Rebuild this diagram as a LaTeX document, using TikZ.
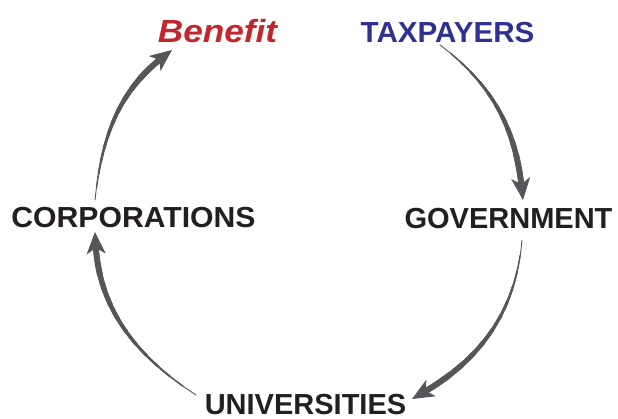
\documentclass[tikz,border=0pt]{standalone}
\usepackage{fontspec}
\setmainfont{Liberation Sans}
\usetikzlibrary{arrows.meta}
\definecolor{benred}{HTML}{C1272D}
\definecolor{taxblue}{HTML}{2E3192}
\definecolor{txtblack}{HTML}{231F20}
\definecolor{arrgray}{HTML}{55565A}
% tapered connector: #1 start, #2 end, #3 to-options, #4 approximate length (pt)
\newcommand\taperconn[4]{%
  \foreach \k in {1,...,10}{%
    \pgfmathsetmacro\ww{0.9+0.5*\k}%
    \pgfmathsetmacro\oo{\k*#4/13}%
    \draw[arrgray, line width=\ww pt, line cap=round, shorten >=12pt,
      dash pattern=on 1000pt off \oo pt, dash phase=1000pt] (#1) to[#3] (#2);
  }%
  \draw[arrgray, line width=0.9pt, line cap=round, -{Stealth[length=22pt,width=19pt,inset=6pt]}] (#1) to[#3] (#2);
}
\begin{document}
\begin{tikzpicture}[x=1pt,y=1pt,
  lbl/.style={inner sep=0pt, anchor=base, font=\fontsize{29}{34}\selectfont\bfseries, text=txtblack},
]
\useasboundingbox (0,0) rectangle (618,419);
\node[lbl, text=benred, font=\fontsize{32}{36}\selectfont\bfseries\itshape] (ben) at (217.5,376) {\scalebox{1.1}[1]{Benefit}};
\node[lbl, text=taxblue] (tax) at (447.5,376) {\scalebox{1.02}[1]{TAXPAYERS}};
\node[lbl] (corp) at (133.5,191) {\scalebox{1.04}[1]{CORPORATIONS}};
\node[lbl] (gov) at (508.5,190) {GOVERNMENT};
\node[lbl] (univ) at (305.5,4) {UNIVERSITIES};
\coordinate (a1s) at (440,374); \coordinate (a1e) at (523,219);
\coordinate (a2s) at (522,179); \coordinate (a2e) at (412,20);
\coordinate (a3s) at (196,24);  \coordinate (a3e) at (95,187);
\coordinate (a4s) at (95,219);  \coordinate (a4e) at (172,369);
\taperconn{a1s}{a1e}{out=-37,in=96}{177}
\taperconn{a2s}{a2e}{out=-95,in=30}{205}
\taperconn{a3s}{a3e}{out=147,in=-87}{205}
\taperconn{a4s}{a4e}{out=84,in=-142}{171}
\end{tikzpicture}
\end{document}
